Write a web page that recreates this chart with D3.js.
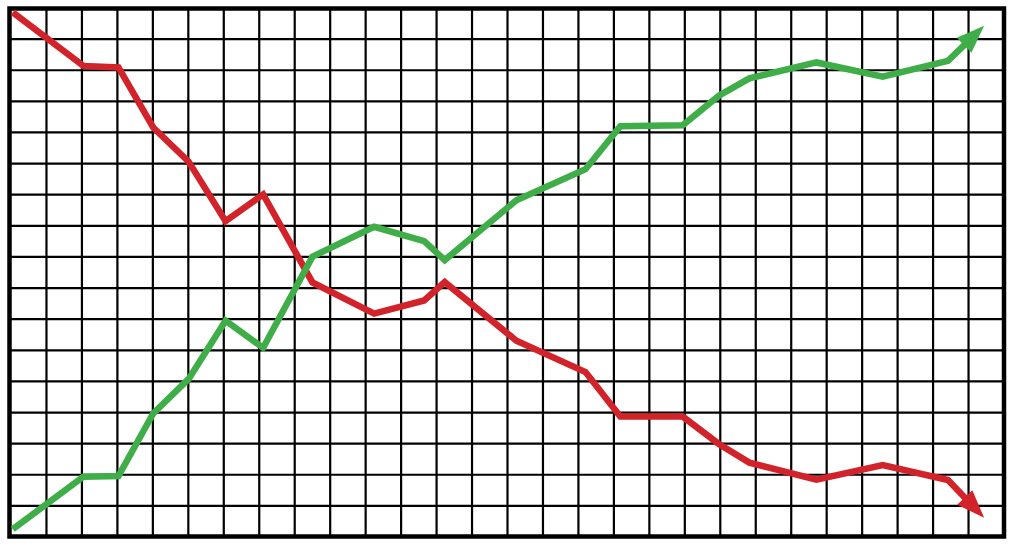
<!DOCTYPE html>
<html>
<head>
<meta charset="utf-8">
<script src="https://cdn.jsdelivr.net/npm/d3@7"></script>
<style>
  body { margin: 0; background: #fff; }
</style>
</head>
<body>
<svg class="d3-svg"></svg>
<script>
// grid is 28 columns x 17 rows, values are in grid units
let steps  = [0.05, 2.04, 3.03, 4.01, 5.01, 6.05, 7.11, 8.5, 10.24, 11.65, 12.23, 14.25, 16.2, 17.18, 18.94, 19.96, 20.82, 22.71, 24.58, 26.42, 27.44];
let falling = [16.86, 15.14, 15.09, 13.16, 12.06, 10.15, 11.01, 8.18, 7.18, 7.6, 8.19, 6.31, 5.3, 3.87, 3.87, 2.99, 2.39, 1.84, 2.31, 1.83, 0.62];
let rising  = [0.25, 1.94, 1.96, 3.97, 5.08, 6.95, 6.08, 9.01, 9.97, 9.51, 8.9, 10.82, 11.82, 13.2, 13.23, 14.18, 14.74, 15.25, 14.79, 15.3, 16.43];
let cols = 28, rows = 17;

let width  = 1016;
let height = 551;
let svg    = d3.select(".d3-svg").attr("width", width).attr("height", height);
let x      = d3.scaleLinear().domain([0, cols]).range([11, 1004]);
let y      = d3.scaleLinear().domain([0, rows]).range([537, 8]);

// grid
let grid = svg.append("g").attr("stroke", "#000").attr("stroke-width", 2.2);
grid.selectAll("line.v")
  .data(d3.range(1, cols))
  .enter().append("line")
  .attr("class", "v")
  .attr("x1", d => x(d)).attr("x2", d => x(d))
  .attr("y1", y(0)).attr("y2", y(rows));
grid.selectAll("line.h")
  .data(d3.range(1, rows))
  .enter().append("line")
  .attr("class", "h")
  .attr("y1", d => y(d)).attr("y2", d => y(d))
  .attr("x1", x(0)).attr("x2", x(cols));

svg.append("rect")
  .attr("x", x(0) - 1.5).attr("y", y(rows) + 0.5)
  .attr("width", x(cols) - x(0) + 1.5).attr("height", y(0) - y(rows) - 1)
  .attr("fill", "none")
  .attr("stroke", "#000")
  .attr("stroke-width", 4.5);

let line = d3.line()
  .x(d => d[0])
  .y(d => d[1]);

function arrowSeries(values, color) {
  let pts = values.map((v, i) => [x(steps[i]), y(v)]);
  let tip = pts[pts.length - 1];
  let prev = pts[pts.length - 2];
  let dx = tip[0] - prev[0], dy = tip[1] - prev[1];
  let len = Math.sqrt(dx * dx + dy * dy);
  let ux = dx / len, uy = dy / len;
  let headLen = 28, headHalf = 10.5;
  let base = [tip[0] - ux * headLen, tip[1] - uy * headLen];
  let shaft = pts.slice(0, -1).concat([[base[0] + ux * 2, base[1] + uy * 2]]);

  svg.append("path")
    .attr("fill", "none")
    .attr("stroke", color)
    .attr("stroke-width", 6.5)
    .attr("stroke-linejoin", "miter")
    .attr("stroke-linecap", "butt")
    .attr("d", line(shaft));

  svg.append("path")
    .attr("fill", color)
    .attr("d", line([
      tip,
      [base[0] - uy * headHalf, base[1] + ux * headHalf],
      [base[0] + uy * headHalf, base[1] - ux * headHalf]
    ]) + "Z");
}

arrowSeries(falling, "#d2232a");
arrowSeries(rising, "#3fae49");
</script>
</body>
</html>
